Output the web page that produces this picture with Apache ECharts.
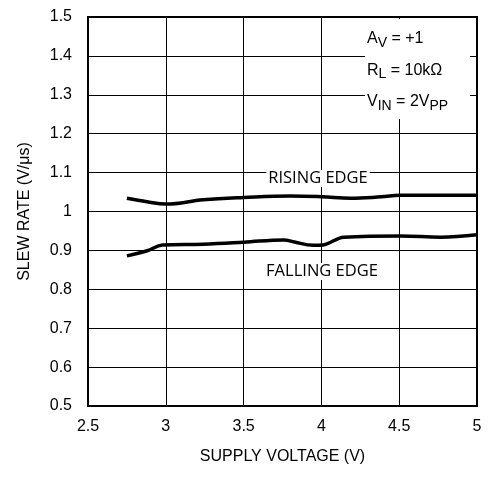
<!DOCTYPE html>
<html>
<head>
<meta charset="utf-8">
<script src="https://cdn.jsdelivr.net/npm/echarts@6/dist/echarts.min.js"></script>
<style>html,body{margin:0;padding:0;background:#fff}#c{width:490px;height:478px}</style>
</head>
<body>
<div id="c"></div>
<script>
const xTicks = [2.5, 3, 3.5, 4, 4.5, 5];
const yTicks = [0.5, 0.6, 0.7, 0.8, 0.9, 1, 1.1, 1.2, 1.3, 1.4, 1.5];
const risingX = [2.75, 2.88, 3.0, 3.24, 3.5, 3.8, 4.0, 4.19, 4.36, 4.51, 4.75, 5.0];
const risingY = [1.034, 1.025, 1.019, 1.030, 1.036, 1.040, 1.038, 1.034, 1.037, 1.042, 1.042, 1.042];
const fallingX = [2.75, 2.88, 2.98, 3.24, 3.5, 3.76, 3.82, 3.95, 4.01, 4.145, 4.51, 4.765, 5.0];
const fallingY = [0.886, 0.899, 0.914, 0.916, 0.921, 0.927, 0.922, 0.913, 0.914, 0.934, 0.937, 0.934, 0.940];
const risingLabel = 'RISING EDGE';
const fallingLabel = 'FALLING EDGE';
const condLines = [
  ['A', 'V', ' = +1'],
  ['R', 'L', ' = 10kΩ'],
  ['V', 'IN', ' = 2V', 'PP']
];

const font = '"Liberation Sans", Arial, sans-serif';
const pairs = (xs, ys) => xs.map((x, i) => [x, ys[i]]);

function richLine(parts) {
  let s = '';
  parts.forEach((p, i) => { s += '{' + (i % 2 === 0 ? 'a' : 's') + '|' + p + '}'; });
  return s;
}

const chart = echarts.init(document.getElementById('c'));
chart.setOption({
  animation: false,
  grid: { left: 88, right: 13, top: 17, bottom: 72, show: true, borderColor: '#000', borderWidth: 2, z: 5 },
  xAxis: {
    type: 'value', min: 2.5, max: 5, interval: 0.5,
    name: 'SUPPLY VOLTAGE (V)', nameLocation: 'middle', nameGap: 43,
    nameTextStyle: { fontFamily: font, fontSize: 16, color: '#000' },
    axisLine: { show: false }, axisTick: { show: false },
    axisLabel: { fontFamily: font, fontSize: 16, color: '#000', margin: 13, formatter: v => String(v) },
    splitLine: { show: true, lineStyle: { color: '#000', width: 1 } }
  },
  yAxis: {
    type: 'value', min: 0.5, max: 1.5, interval: 0.1,
    name: 'SLEW RATE (V/μs)', nameLocation: 'middle', nameGap: 55,
    nameTextStyle: { fontFamily: font, fontSize: 16, color: '#000' },
    axisLine: { show: false }, axisTick: { show: false },
    axisLabel: { fontFamily: font, fontSize: 16, color: '#000', margin: 16, formatter: v => String(Math.round(v * 10) / 10) },
    splitLine: { show: true, lineStyle: { color: '#000', width: 1 } }
  },
  series: [
    { type: 'line', data: pairs(risingX, risingY), smooth: 0.4, symbol: 'none', lineStyle: { color: '#000', width: 3.5 } },
    { type: 'line', data: pairs(fallingX, fallingY), smooth: 0.4, symbol: 'none', lineStyle: { color: '#000', width: 3.5 } }
  ],
  graphic: [
    { type: 'rect', z: 100, shape: { x: 365, y: 19, width: 105, height: 100 }, style: { fill: '#fff' } },
    ...condLines.map((parts, i) => ({
      type: 'text', z: 101, left: 367, top: 31 + i * 31.5,
      style: {
        text: richLine(parts), fill: '#000',
        rich: {
          a: { fontFamily: font, fontSize: 16, lineHeight: 18, verticalAlign: 'top', fill: '#000' },
          s: { fontFamily: font, fontSize: 14, lineHeight: 14, padding: [5, 0, 0, 0], verticalAlign: 'top', fill: '#000' }
        }
      }
    })),
    { type: 'text', z: 101, x: 318, y: 178.5, style: { text: risingLabel, font: '16.5px "Open Sans", Lato, sans-serif', fill: '#000', align: 'center', verticalAlign: 'middle', backgroundColor: '#fff', padding: [0, 2] } },
    { type: 'text', z: 101, x: 322, y: 271.5, style: { text: fallingLabel, font: '16.5px "Open Sans", Lato, sans-serif', fill: '#000', align: 'center', verticalAlign: 'middle', backgroundColor: '#fff', padding: [0, 2] } }
  ]
});
</script>
</body>
</html>
